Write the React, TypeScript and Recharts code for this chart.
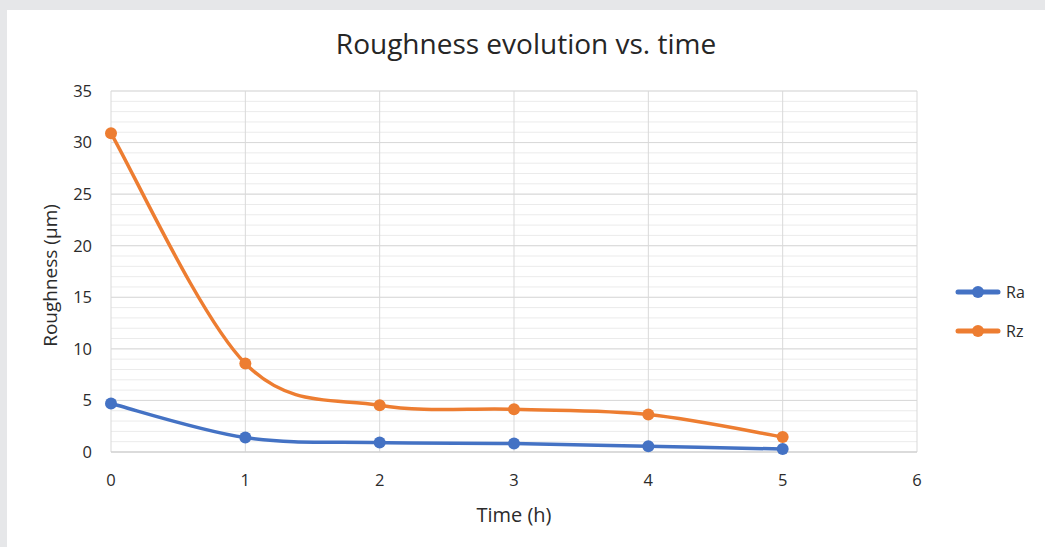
import { LineChart, Line, XAxis, YAxis, CartesianGrid, Legend } from "recharts"

const times = [0, 1, 2, 3, 4, 5]
const raValues = [4.7, 1.4, 0.91, 0.82, 0.55, 0.29]
const rzValues = [30.9, 8.58, 4.53, 4.14, 3.63, 1.46]

const xTicks = [0, 1, 2, 3, 4, 5, 6]
const yTicks = [0, 5, 10, 15, 20, 25, 30, 35]
const yMinorTicks = Array.from({ length: 36 }, (_, i) => i)
const Y_MAX = 35

const chartData = times.map((t, i) => ({ time: t, Ra: raValues[i], Rz: rzValues[i] }))

const FONT = "'Open Sans', 'Liberation Sans', sans-serif"
const TEXT = "#2b2b2b"
const RA_COLOR = "#4472c4"
const RZ_COLOR = "#ed7d31"

// Catmull-Rom spline, close to Excel's "smoothed line"
const smoothCurve = (context: any) => {
  let pts: [number, number][] = []
  return {
    areaStart() {},
    areaEnd() {},
    lineStart() {
      pts = []
    },
    point(x: number, y: number) {
      pts.push([+x, +y])
    },
    lineEnd() {
      const n = pts.length
      if (!n) return
      context.moveTo(pts[0][0], pts[0][1])
      for (let i = 0; i < n - 1; i++) {
        const p0 = pts[Math.max(i - 1, 0)]
        const p1 = pts[i]
        const p2 = pts[i + 1]
        const p3 = pts[Math.min(i + 2, n - 1)]
        context.bezierCurveTo(
          p1[0] + (p2[0] - p0[0]) / 6,
          p1[1] + (p2[1] - p0[1]) / 6,
          p2[0] - (p3[0] - p1[0]) / 6,
          p2[1] - (p3[1] - p1[1]) / 6,
          p2[0],
          p2[1]
        )
      }
    },
  }
}

// minor gridlines every 1 µm
const minorGridY = ({ yAxis, offset }: any) =>
  yMinorTicks.map((v) =>
    typeof yAxis?.scale === "function" ? yAxis.scale(v) : offset.top + offset.height * (1 - v / Y_MAX)
  )

const renderLegend = (props: any) => {
  const items = props.payload || []
  return (
    <div style={{ fontFamily: FONT, fontSize: 16, color: TEXT }}>
      {items.map((item: any) => (
        <div key={item.value} style={{ display: "flex", alignItems: "center", height: 39 }}>
          <svg width={46} height={14} style={{ display: "block" }}>
            <line x1={3} x2={43} y1={7} y2={7} stroke={item.color} strokeWidth={5} strokeLinecap="round" />
            <circle cx={23} cy={7} r={6} fill={item.color} />
          </svg>
          <span style={{ marginLeft: 5 }}>{item.value}</span>
        </div>
      ))}
    </div>
  )
}

const App = () => {
  return (
    <div style={{ position: "absolute", left: 0, top: 0, width: 1045, height: 547, background: "#e6e7e9" }}>
      <div style={{ position: "absolute", left: 7, top: 10, width: 1038, height: 537, background: "#fff" }}>
        <LineChart width={1038} height={537} data={chartData} margin={{ top: 81, right: 38, left: 30, bottom: 25 }}>
          <CartesianGrid stroke="#ebebeb" vertical={false} horizontalCoordinatesGenerator={minorGridY} />
          <CartesianGrid stroke="#d9d9d9" />
          <XAxis
            dataKey="time"
            type="number"
            domain={[0, 6]}
            ticks={xTicks}
            tickLine={false}
            tickMargin={16}
            axisLine={{ stroke: "#cfcfcf" }}
            height={70}
            tick={{ fill: TEXT, fontSize: 16.5, fontFamily: FONT }}
            label={{
              content: (p: any) => (
                <text
                  x={p.viewBox.x + p.viewBox.width / 2}
                  y={p.viewBox.y + 62}
                  textAnchor="middle"
                  dominantBaseline="central"
                  fill={TEXT}
                  fontSize={20}
                  fontFamily={FONT}
                >
                  Time (h)
                </text>
              ),
            }}
          />
          <YAxis
            type="number"
            domain={[0, Y_MAX]}
            ticks={yTicks}
            width={74}
            tickLine={false}
            axisLine={false}
            tickMargin={13}
            tick={{ fill: TEXT, fontSize: 16.5, fontFamily: FONT }}
            label={{
              content: (p: any) => {
                const cx = 43
                const cy = p.viewBox.y + p.viewBox.height / 2 + 4
                return (
                  <text
                    x={cx}
                    y={cy}
                    transform={`rotate(-90 ${cx} ${cy})`}
                    textAnchor="middle"
                    dominantBaseline="central"
                    fill={TEXT}
                    fontSize={19}
                    fontFamily={FONT}
                  >
                    Roughness (µm)
                  </text>
                )
              },
            }}
          />
          <Legend
            layout="vertical"
            align="right"
            verticalAlign="middle"
            content={renderLegend}
            wrapperStyle={{ left: 948, top: 262, width: 90 }}
          />
          <Line
            dataKey="Ra"
            name="Ra"
            type={smoothCurve as any}
            stroke={RA_COLOR}
            strokeWidth={3.5}
            dot={{ r: 6, fill: RA_COLOR, stroke: RA_COLOR, strokeWidth: 0 }}
            activeDot={false}
            isAnimationActive={false}
          />
          <Line
            dataKey="Rz"
            name="Rz"
            type={smoothCurve as any}
            stroke={RZ_COLOR}
            strokeWidth={3.5}
            dot={{ r: 6, fill: RZ_COLOR, stroke: RZ_COLOR, strokeWidth: 0 }}
            activeDot={false}
            isAnimationActive={false}
          />
        </LineChart>
        <div
          style={{
            position: "absolute",
            left: 0,
            top: 15,
            width: 1038,
            textAlign: "center",
            fontFamily: FONT,
            fontSize: 28,
            lineHeight: "36px",
            color: "#262626",
          }}
        >
          Roughness evolution vs. time
        </div>
      </div>
    </div>
  )
}

export default App
